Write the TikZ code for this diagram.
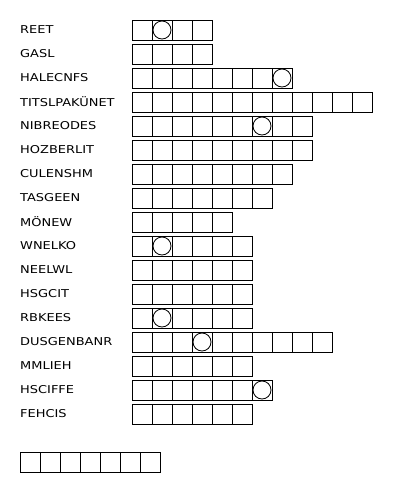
\documentclass[tikz,border=0pt]{standalone}
\usepackage{fontspec}
\newfontfamily\wf[FakeStretch=1.2]{DejaVu Sans}
\begin{document}
\begin{tikzpicture}[x=1pt,y=-1pt,
  cell/.style={draw,line width=0.9pt,minimum width=20pt,minimum height=20pt,inner sep=0pt,outer sep=0pt,anchor=north west},
  ring/.style={draw,circle,line width=0.8pt,minimum size=18pt,inner sep=0pt},
  word/.style={anchor=west,inner sep=0pt,font=\wf\fontsize{10.8}{12}\selectfont}]
\useasboundingbox (0,0) rectangle (402,496);
\foreach \w/\n/\c [count=\i from 0] in {REET/4/2,GASL/4/0,HALECNFS/8/8,TITSLPAKÜNET/12/0,NIBREODES/9/7,HOZBERLIT/9/0,CULENSHM/8/0,TASGEEN/7/0,MÖNEW/5/0,WNELKO/6/2,NEELWL/6/0,HSGCIT/6/0,RBKEES/6/2,DUSGENBANR/10/4,MMLIEH/6/0,HSCIFFE/7/7,FEHCIS/6/0}{
  \node[word] (w\i) at (20,30+24*\i) {\w};
  \foreach \j in {1,...,\n}{
    \node[cell] (c\i-\j) at (132+20*\j-20,20+24*\i) {};
  }
  \ifnum\c>0
    \node[ring] (o\i) at (c\i-\c.center) {};
  \fi
}
\foreach \j in {1,...,7}{
  \node[cell] (s\j) at (20+20*\j-20,452) {};
}
\end{tikzpicture}
\end{document}
